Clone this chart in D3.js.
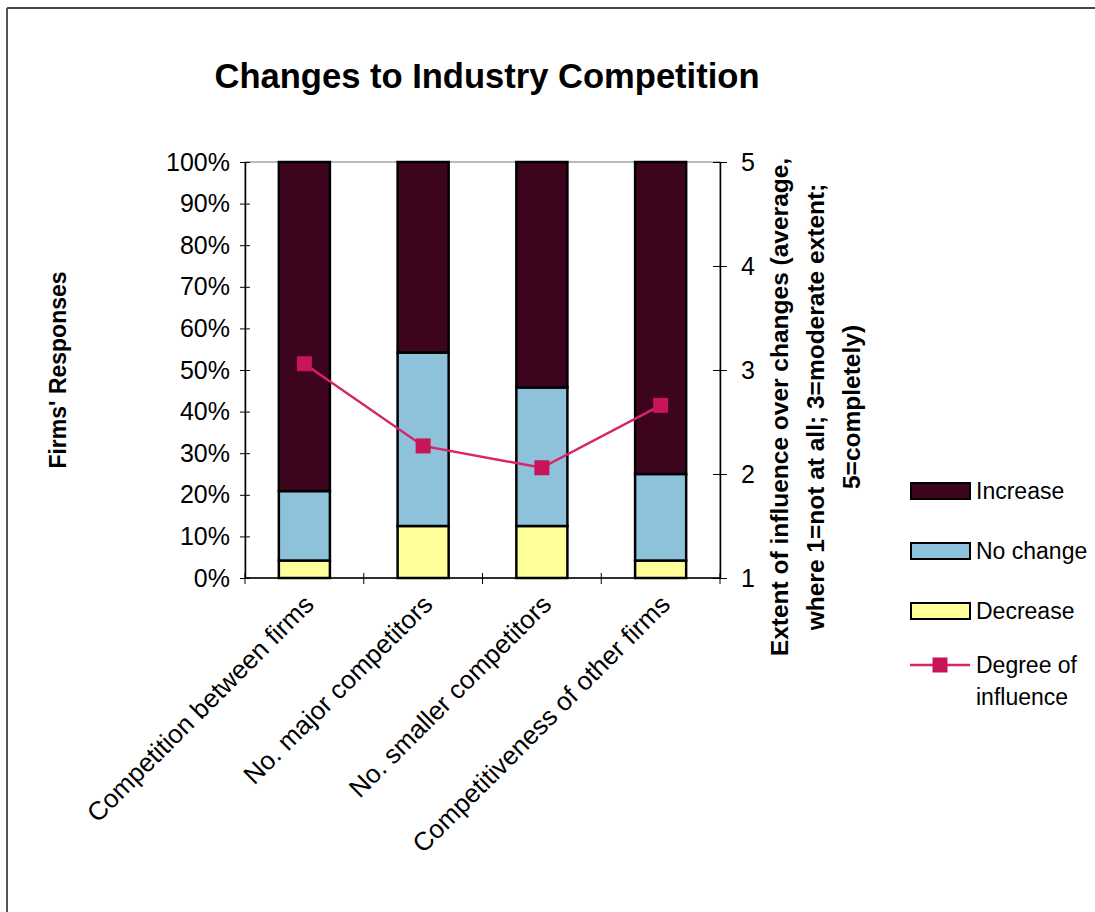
<!DOCTYPE html>
<html>
<head>
<meta charset="utf-8">
<script src="https://cdn.jsdelivr.net/npm/d3@7"></script>
<style>
  html, body { margin: 0; padding: 0; background: #fff; }
  svg { display: block; font-family: "Liberation Sans", Arial, sans-serif; }
</style>
</head>
<body>
<svg id="chart" width="1095" height="912"></svg>
<script>
// Survey responses per item (percent of firms)
const categories = [
  "Competition between firms",
  "No. major competitors",
  "No. smaller competitors",
  "Competitiveness of other firms"
];
const decrease = [4.2, 12.5, 12.5, 4.2];
const noChange = [16.7, 41.7, 33.3, 20.8];
const increase = [79.1, 45.8, 54.2, 75.0];
// Average degree of influence (1-5 scale)
const influence = [3.06, 2.27, 2.06, 2.66];

const percentTicks = [0, 10, 20, 30, 40, 50, 60, 70, 80, 90, 100];
const scaleTicks = [1, 2, 3, 4, 5];

const seriesNames = ["Decrease", "No change", "Increase"];
const seriesColors = { "Decrease": "#ffff99", "No change": "#8ec2da", "Increase": "#3c041d" };
const lineColor = "#d8246a";
const markerColor = "#c81458";

const svg = d3.select("#chart");

const plot = { left: 245, right: 720, top: 162, bottom: 578 };

// Outer frame (top and left edges)
svg.append("line").attr("x1", 7).attr("x2", 1095).attr("y1", 8).attr("y2", 8)
  .attr("stroke", "#444").attr("stroke-width", 2);
svg.append("line").attr("x1", 7).attr("x2", 7).attr("y1", 8).attr("y2", 912)
  .attr("stroke", "#555").attr("stroke-width", 2);

// Title
svg.append("text")
  .attr("x", 487).attr("y", 88)
  .attr("text-anchor", "middle")
  .attr("font-size", 35).attr("font-weight", "bold")
  .attr("textLength", 545).attr("lengthAdjust", "spacingAndGlyphs")
  .text("Changes to Industry Competition");

const x = d3.scaleBand()
  .domain(categories)
  .range([plot.left, plot.right])
  .paddingInner(0.57)
  .paddingOuter(0.285);

const yPct = d3.scaleLinear().domain([0, 100]).range([plot.bottom, plot.top]);
const yScale = d3.scaleLinear().domain([1, 5]).range([plot.bottom, plot.top]);

// Plot area frame
svg.append("rect")
  .attr("x", plot.left).attr("y", plot.top)
  .attr("width", plot.right - plot.left).attr("height", plot.bottom - plot.top)
  .attr("fill", "none").attr("stroke", "#777").attr("stroke-width", 1);

// Stacked bars
const rows = categories.map((c, i) => ({
  category: c,
  "Decrease": decrease[i],
  "No change": noChange[i],
  "Increase": increase[i]
}));
const stacked = d3.stack().keys(seriesNames)(rows);

svg.append("g")
  .selectAll("g")
  .data(stacked)
  .join("g")
  .attr("fill", d => seriesColors[d.key])
  .selectAll("rect")
  .data(d => d)
  .join("rect")
  .attr("x", d => x(d.data.category))
  .attr("width", x.bandwidth())
  .attr("y", d => yPct(d[1]))
  .attr("height", d => yPct(d[0]) - yPct(d[1]))
  .attr("stroke", "#000")
  .attr("stroke-width", 2.5);

// Left axis
const leftAxis = d3.axisLeft(yPct)
  .tickValues(percentTicks)
  .tickFormat(d => d + "%")
  .tickSizeInner(5).tickSizeOuter(0).tickPadding(12);
const gl = svg.append("g").attr("transform", `translate(${plot.left},0)`).call(leftAxis);
gl.select(".domain").attr("stroke", "#000").attr("stroke-width", 1.5);
gl.selectAll(".tick line").attr("x2", 5).attr("x1", -5).attr("stroke", "#000");
gl.selectAll(".tick text").attr("font-size", 25).attr("fill", "#000")
  .attr("font-family", "Liberation Sans, Arial, sans-serif").attr("x", -15);

// Right axis
const rightAxis = d3.axisRight(yScale)
  .tickValues(scaleTicks)
  .tickFormat(d3.format("d"))
  .tickSizeInner(7).tickSizeOuter(0).tickPadding(14);
const gr = svg.append("g").attr("transform", `translate(${plot.right},0)`).call(rightAxis);
gr.select(".domain").attr("stroke", "#000").attr("stroke-width", 1.5);
gr.selectAll(".tick line").attr("x1", -7).attr("x2", 7).attr("stroke", "#000");
gr.selectAll(".tick text").attr("font-size", 25).attr("fill", "#000")
  .attr("font-family", "Liberation Sans, Arial, sans-serif");

// Bottom axis with ticks between categories
const gb = svg.append("g");
gb.append("line")
  .attr("x1", plot.left).attr("x2", plot.right)
  .attr("y1", plot.bottom).attr("y2", plot.bottom)
  .attr("stroke", "#000").attr("stroke-width", 1.5);
const boundaries = d3.range(categories.length + 1).map(k => plot.left + k * x.step());
gb.selectAll("line.tick")
  .data(boundaries)
  .join("line")
  .attr("class", "tick")
  .attr("x1", d => d).attr("x2", d => d)
  .attr("y1", plot.bottom - 5).attr("y2", plot.bottom + 6)
  .attr("stroke", "#000");

// Rotated category labels
gb.selectAll("text.cat")
  .data(categories)
  .join("text")
  .attr("class", "cat")
  .attr("transform", d => `translate(${x(d) + x.bandwidth() / 2 + 11},${plot.bottom + 28}) rotate(-45)`)
  .attr("text-anchor", "end")
  .attr("font-size", 26)
  .text(d => d);

// Degree-of-influence line
const lineGen = d3.line()
  .x((d, i) => x(categories[i]) + x.bandwidth() / 2)
  .y(d => yScale(d));
svg.append("path")
  .datum(influence)
  .attr("d", lineGen)
  .attr("fill", "none")
  .attr("stroke", lineColor)
  .attr("stroke-width", 2.5);
svg.append("g")
  .selectAll("rect")
  .data(influence)
  .join("rect")
  .attr("x", (d, i) => x(categories[i]) + x.bandwidth() / 2 - 7.5)
  .attr("y", d => yScale(d) - 7.5)
  .attr("width", 15).attr("height", 15)
  .attr("fill", markerColor);

// Axis titles
svg.append("text")
  .attr("transform", "translate(66,370) rotate(-90)")
  .attr("text-anchor", "middle")
  .attr("font-size", 23).attr("font-weight", "bold")
  .text("Firms' Responses");

const rightTitle = [
  "Extent of influence over changes (average,",
  "where 1=not at all; 3=moderate extent;",
  "5=completely)"
];
svg.append("g")
  .selectAll("text")
  .data(rightTitle)
  .join("text")
  .attr("transform", (d, i) => `translate(${788 + i * 36},407) rotate(-90)`)
  .attr("text-anchor", "middle")
  .attr("font-size", 24.5).attr("font-weight", "bold")
  .text(d => d);

// Legend
const legend = svg.append("g");
const legendItems = ["Increase", "No change", "Decrease"];
legendItems.forEach((name, i) => {
  const cy = 491 + i * 60;
  legend.append("rect")
    .attr("x", 911).attr("y", cy - 8)
    .attr("width", 59).attr("height", 16)
    .attr("fill", seriesColors[name])
    .attr("stroke", "#000").attr("stroke-width", 2);
  legend.append("text")
    .attr("x", 976).attr("y", cy + 8)
    .attr("font-size", 23)
    .text(name);
});
legend.append("line")
  .attr("x1", 910).attr("x2", 970).attr("y1", 665).attr("y2", 665)
  .attr("stroke", lineColor).attr("stroke-width", 2.5);
legend.append("rect")
  .attr("x", 932.5).attr("y", 657.5).attr("width", 15).attr("height", 15)
  .attr("fill", markerColor);
legend.append("text").attr("x", 976).attr("y", 673).attr("font-size", 23).text("Degree of");
legend.append("text").attr("x", 976).attr("y", 705).attr("font-size", 23).text("influence");
</script>
</body>
</html>
